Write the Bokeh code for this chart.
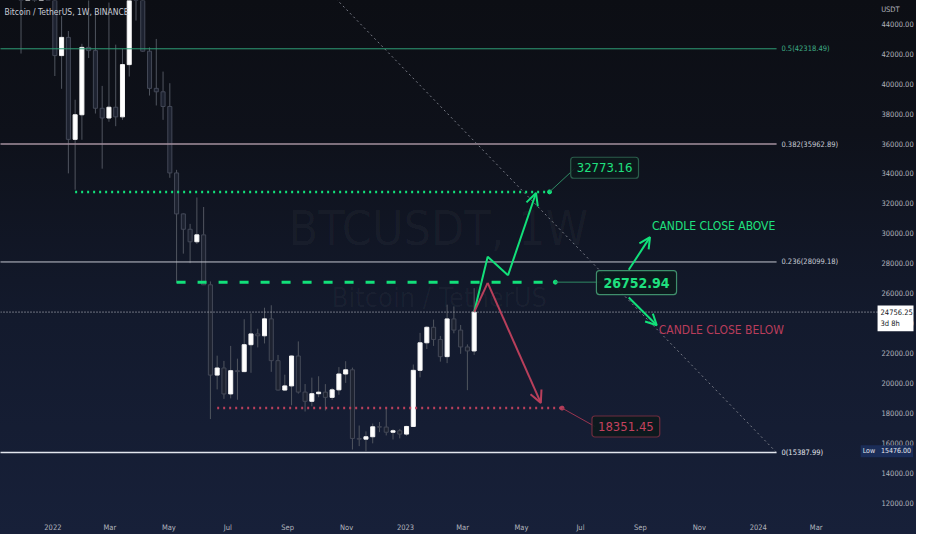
import numpy as np
from bokeh.plotting import figure
from bokeh.models import (Range1d, LinearAxis, FixedTicker, PrintfTickFormatter,
                          ColumnDataSource, Arrow, OpenHead, Label, Span)
from bokeh.core.properties import value
from bokeh.embed import file_html
from bokeh.resources import INLINE

FONT = "DejaVu Sans Condensed"

# ---------------- weekly candles (BTCUSDT, 1W) ----------------
dates = ["2021-11-29", "2021-12-06", "2021-12-13", "2021-12-20", "2021-12-27",
         "2022-01-03", "2022-01-10", "2022-01-17", "2022-01-24", "2022-01-31",
         "2022-02-07", "2022-02-14", "2022-02-21", "2022-02-28",
         "2022-03-07", "2022-03-14", "2022-03-21", "2022-03-28",
         "2022-04-04", "2022-04-11", "2022-04-18", "2022-04-25",
         "2022-05-02", "2022-05-09", "2022-05-16", "2022-05-23", "2022-05-30",
         "2022-06-06", "2022-06-13", "2022-06-20", "2022-06-27",
         "2022-07-04", "2022-07-11", "2022-07-18", "2022-07-25",
         "2022-08-01", "2022-08-08", "2022-08-15", "2022-08-22", "2022-08-29",
         "2022-09-05", "2022-09-12", "2022-09-19", "2022-09-26",
         "2022-10-03", "2022-10-10", "2022-10-17", "2022-10-24", "2022-10-31",
         "2022-11-07", "2022-11-14", "2022-11-21", "2022-11-28",
         "2022-12-05", "2022-12-12", "2022-12-19", "2022-12-26",
         "2023-01-02", "2023-01-09", "2023-01-16", "2023-01-23", "2023-01-30",
         "2023-02-06", "2023-02-13", "2023-02-20", "2023-02-27",
         "2023-03-06", "2023-03-13"]
opens = [57274, 49396, 50098, 46681, 50775,
         47286, 41864, 43079, 36276, 37917,
         42412, 42197, 38350, 37700,
         38420, 37778, 41262, 46827,
         46407, 42158, 39678, 39450,
         38470, 34038, 31305, 30280, 29445,
         29906, 26575, 20553, 21027,
         19297, 20847, 20785, 22580,
         23300, 23175, 24305, 21515, 19555,
         19831, 21826, 19420, 18805,
         19311, 19415, 19068, 19570, 20627,
         20906, 16329, 16280, 16440,
         17105, 17085, 16740, 16841,
         16618, 17127, 20872, 22707, 23743,
         22931, 21783, 24300, 23555,
         22430, 22163]
highs = [59176, 51936, 50500, 51869, 52088,
         47570, 44500, 43505, 38920, 42650,
         45855, 44760, 39843, 45400,
         42594, 42325, 47000, 48189,
         47444, 42414, 42976, 40797,
         40023, 34243, 31330, 30640, 32400,
         31765, 26800, 21850, 21500,
         22500, 21650, 24280, 24668,
         23647, 25047, 25211, 21900, 20580,
         21860, 22800, 19956, 20385,
         20475, 19950, 19700, 21085, 21480,
         21053, 17190, 16800, 17320,
         17424, 18387, 16959, 16963,
         17176, 21258, 23371, 23816, 24255,
         23165, 25250, 25134, 23898,
         22600, 26350]
lows = [42000, 47100, 45456, 45558, 45678,
        40500, 39650, 34008, 32917, 36250,
        41700, 38000, 34322, 37450,
        37155, 37578, 40467, 44200,
        42107, 39200, 38536, 37578,
        33713, 26700, 28654, 28019, 29300,
        26560, 17622, 19600, 18966,
        19000, 18910, 20750, 20706,
        22400, 22664, 20770, 19520, 19520,
        18540, 19320, 18125, 18471,
        19080, 18190, 18900, 19240, 20031,
        15588, 15815, 15476, 16000,
        16750, 16528, 16256, 16333,
        16500, 17100, 20400, 22292, 22500,
        21451, 21350, 23340, 21971,
        19549, 21900]
closes = [49396, 50098, 46681, 50775, 47286,
          41864, 43079, 36276, 37917, 42412,
          42197, 38350, 37700, 38420,
          37778, 41262, 46827, 46407,
          42158, 39678, 39450, 38470,
          34038, 31305, 30280, 29445, 29906,
          26575, 20553, 21027, 19297,
          20847, 20785, 22580, 23300,
          23175, 24305, 21515, 19555, 19831,
          21826, 19420, 18805, 19311,
          19415, 19068, 19570, 20627, 20906,
          16329, 16280, 16440, 17105,
          17085, 16740, 16841, 16618,
          17127, 20872, 22707, 23743, 22931,
          21783, 24300, 23555, 22430,
          22163, 24756.25]

# ---------------- axes ----------------
price_ticks = [12000, 14000, 16000, 18000, 20000, 22000, 24000, 26000, 28000,
               30000, 32000, 34000, 36000, 38000, 40000, 42000, 44000]
time_tick_dates = ["2022-01-01", "2022-03-01", "2022-05-01", "2022-07-01", "2022-09-01",
                   "2022-11-01", "2023-01-01", "2023-03-01", "2023-05-01", "2023-07-01",
                   "2023-09-01", "2023-11-01", "2024-01-01", "2024-03-01"]
time_tick_labels = ["2022", "Mar", "May", "Jul", "Sep", "Nov", "2023", "Mar", "May",
                    "Jul", "Sep", "Nov", "2024", "Mar"]

# ---------------- drawings ----------------
fib_levels = [42318.49, 35962.89, 28099.18, 15387.99]
fib_labels = ["0.5(42318.49)", "0.382(35962.89)", "0.236(28099.18)", "0(15387.99)"]
fib_colors = ["#2e9e77", "#a5919f", "#c4c7d0", "#e3e6ee"]
fib_text_colors = ["#3fae86", "#c8ccd6", "#c8ccd6", "#e3e6ee"]
fib_widths = [1, 1.5, 1, 1.5]
fib_span = ["2021-11-01", "2024-01-20"]
fib_label_date = "2024-01-25"

diag_dates = ["2022-10-03", "2024-01-20"]
diag_prices = [46850, 15387.99]

target_up = 32773.16
target_mid = 26752.94
target_dn = 18351.45
current_price = 24756.25
low_price = 15476.00

up_line_dates = ["2022-01-24", "2023-05-30"]
mid_line_dates = ["2022-05-09", "2023-06-05"]
dn_line_dates = ["2022-06-20", "2023-06-12"]

callout_text = ["32773.16", "26752.94", "18351.45"]
callout_dates = ["2023-07-26", "2023-08-28", "2023-08-17"]
callout_prices = [34382, 26727, 17125]
callout_sizes = ["13px", "14px", "13px"]
callout_colors = ["#1fe07f", "#1fe07f", "#c2415e"]
callout_borders = ["#2b5e4b", "#3f8f6c", "#6e2c3e"]
callout_styles = ["normal", "bold", "normal"]
callout_pads = [6, 7, 6]

conn_start_dates = ["2023-05-30", "2023-06-05", "2023-06-12"]
conn_start_prices = [32773.16, 26752.94, 18351.45]
conn_end_dates = ["2023-06-25", "2023-07-23", "2023-07-16"]
conn_end_prices = [34326, 26752.94, 17125]
conn_colors = ["#2f8a64", "#2f8a64", "#9a3550"]

zig_up_dates = ["2023-03-13", "2023-03-27", "2023-04-17", "2023-05-16"]
zig_up_prices = [24756, 28447, 27206, 32700]
zig_dn_dates = ["2023-03-13", "2023-03-27", "2023-05-21"]
zig_dn_prices = [24756, 26709, 18700]

branch_start_dates = ["2023-08-20", "2023-08-20"]
branch_start_prices = [27576, 25730]
branch_end_dates = ["2023-09-11", "2023-09-18"]
branch_end_prices = [29754, 23875]

note_text = ["CANDLE CLOSE ABOVE", "CANDLE CLOSE BELOW"]
note_dates = ["2023-09-13", "2023-09-20"]
note_prices = [30516, 23559]
note_colors = ["#1fe07f", "#b93d5b"]

GREEN = "#12e07a"
RED = "#b83f5b"

EPOCH = np.datetime64("2022-01-01")


def days(ds):
    return (np.array(ds, dtype="datetime64[D]") - EPOCH).astype(float)


x = days(dates)
o = np.array(opens, float)
h = np.array(highs, float)
lo = np.array(lows, float)
c = np.array(closes, float)
up = c >= o

candles = ColumnDataSource(dict(
    x=x, high=h, low=lo,
    top=np.maximum(o, c), bottom=np.minimum(o, c),
    fill=np.where(up, "#ffffff", "#1d2230"),
    line=np.where(up, "#f4f4f4", "#434857"),
))

p = figure(width=916, height=534,
           x_range=Range1d(-54.24, 890.7), y_range=Range1d(10921, 45539),
           output_backend="svg", toolbar_location=None,
           x_axis_location=None, y_axis_location=None,
           min_border_left=0, min_border_top=0,
           min_border_right=0, min_border_bottom=14)
p.background_fill_alpha = 0
p.border_fill_alpha = 0
p.outline_line_color = None
p.xgrid.visible = False
p.ygrid.visible = False
p.styles = {"background": "linear-gradient(180deg, #0c0e14 0%, #0e111a 25%, #131a2d 60%, #172039 100%)"}

yaxis = LinearAxis(ticker=FixedTicker(ticks=price_ticks),
                   formatter=PrintfTickFormatter(format="%.2f"),
                   axis_line_color=None, major_tick_line_color=None,
                   minor_tick_line_color=None, major_tick_out=0, major_tick_in=0,
                   major_label_standoff=-32,
                   major_label_text_color="#b2b5be",
                   major_label_text_font=FONT,
                   major_label_text_font_size="7.5px")
p.add_layout(yaxis, "right")

tick_days = [int(t) for t in days(time_tick_dates)]
xaxis = LinearAxis(ticker=FixedTicker(ticks=tick_days),
                   major_label_overrides={t: s for t, s in zip(tick_days, time_tick_labels)},
                   axis_line_color=None, major_tick_line_color=None,
                   minor_tick_line_color=None, major_tick_out=0, major_tick_in=0,
                   major_label_standoff=3,
                   major_label_text_color="#b2b5be",
                   major_label_text_font=FONT,
                   major_label_text_font_size="7.5px")
p.add_layout(xaxis, "below")

# watermark
wm = ColumnDataSource(dict(x=days(["2023-02-04", "2023-02-05"]), y=[30384, 25747],
                           t=["BTCUSDT, 1W", "Bitcoin / TetherUS"],
                           s=["48px", "27px"]))
p.text("x", "y", text="t", source=wm, text_font=value(FONT), text_font_size="s",
       text_align="center", text_baseline="middle", text_color="#ffffff", text_alpha=0.035)

# candles
p.segment("x", "low", "x", "high", source=candles, line_color="#50555f", line_width=1)
p.vbar(x="x", width=4.2, top="top", bottom="bottom", source=candles,
       fill_color="fill", line_color="line", line_width=1)

# fib levels
fs = days(fib_span)
fib_src = ColumnDataSource(dict(x0=[fs[0]] * 4, x1=[fs[1]] * 4, y=fib_levels,
                                col=fib_colors, w=fib_widths))
p.segment("x0", "y", "x1", "y", source=fib_src, line_color="col", line_width="w")
fl = ColumnDataSource(dict(x=[days([fib_label_date])[0]] * 4, y=fib_levels, t=fib_labels,
                           col=fib_text_colors))
p.text("x", "y", text="t", source=fl, text_font=value(FONT), text_font_size="7.5px",
       text_color="col", text_baseline="middle", text_align="left")

# diagonal trend line of the fib
p.line(days(diag_dates), diag_prices, line_color="#787b86", line_width=1, line_dash="2 3")

# current price line
p.add_layout(Span(location=current_price, dimension="width", line_color="#c9cbd2",
                  line_width=1, line_dash="1 2"))

# horizontal levels
p.line(days(up_line_dates), [target_up] * 2, line_color=GREEN, line_width=2.5, line_dash="2 4")
p.line(days(mid_line_dates), [target_mid] * 2, line_color=GREEN, line_width=3, line_dash="9 12")
p.line(days(dn_line_dates), [target_dn] * 2, line_color=RED, line_width=2.5, line_dash="2 4")
p.scatter(days([up_line_dates[1], mid_line_dates[1], dn_line_dates[1]]),
          [target_up, target_mid, target_dn], size=4,
          color=[GREEN, GREEN, RED])

# connectors
p.segment(days(conn_start_dates), conn_start_prices, days(conn_end_dates), conn_end_prices,
          line_color=conn_colors, line_width=1)

# callout boxes
cs = ColumnDataSource(dict(x=days(callout_dates), y=callout_prices, t=callout_text,
                           s=callout_sizes, col=callout_colors, bcol=callout_borders,
                           st=callout_styles))
for i in range(3):
    p.text([cs.data["x"][i]], [callout_prices[i]], text=[callout_text[i]],
           text_font=value(FONT), text_font_size=callout_sizes[i],
           text_font_style=callout_styles[i], text_color=callout_colors[i],
           text_align="center", text_baseline="middle",
           background_fill_color="#0c1a1c", background_fill_alpha=0.9,
           border_line_color=callout_borders[i], border_line_width=1.2,
           padding=callout_pads[i], border_radius=3)

# scenario paths
zu_x = days(zig_up_dates)
p.line(zu_x[:-1], zig_up_prices[:-1], line_color=GREEN, line_width=2)
p.add_layout(Arrow(end=OpenHead(size=12, line_color=GREEN, line_width=2),
                   x_start=zu_x[-2], y_start=zig_up_prices[-2],
                   x_end=zu_x[-1], y_end=zig_up_prices[-1],
                   line_color=GREEN, line_width=2))
zd_x = days(zig_dn_dates)
p.line(zd_x[:-1], zig_dn_prices[:-1], line_color=RED, line_width=2)
p.add_layout(Arrow(end=OpenHead(size=12, line_color=RED, line_width=2),
                   x_start=zd_x[-2], y_start=zig_dn_prices[-2],
                   x_end=zd_x[-1], y_end=zig_dn_prices[-1],
                   line_color=RED, line_width=2))
bs = days(branch_start_dates)
be = days(branch_end_dates)
for i in range(2):
    p.add_layout(Arrow(end=OpenHead(size=11, line_color=GREEN, line_width=2),
                       x_start=bs[i], y_start=branch_start_prices[i],
                       x_end=be[i], y_end=branch_end_prices[i],
                       line_color=GREEN, line_width=2))

ns = ColumnDataSource(dict(x=days(note_dates), y=note_prices, t=note_text, col=note_colors))
p.text("x", "y", text="t", source=ns, text_font=value(FONT), text_font_size="12px",
       text_color="col", text_align="left", text_baseline="middle")

# header text
p.add_layout(Label(x=-50.2, y=44755, text="Bitcoin / TetherUS, 1W, BINANCE",
                   text_font=FONT, text_font_size="8.5px", text_color="#c8ccd6",
                   text_baseline="middle", text_align="left"))

# price-scale extras
p.add_layout(Label(x=857.2, y=44951, text="USDT", text_font=FONT, text_font_size="7.5px",
                   text_color="#b2b5be", text_baseline="middle", text_align="left"))
p.add_layout(Label(x=853.5, y=25200, text="24756.25\n3d 8h", text_font=FONT,
                   text_font_size="7.5px", text_color="#131722", text_baseline="top",
                   text_align="left", background_fill_color="#ffffff", padding=3))
p.add_layout(Label(x=836.0, y=low_price, text="Low\u00a0\u00a0\u00a015476.00",
                   text_font=FONT, text_font_size="7px", text_color="#e6e8ee",
                   text_baseline="middle", text_align="left",
                   background_fill_color="#1b2d58", padding=2))

open("out.html", "w").write(file_html(p, INLINE))
